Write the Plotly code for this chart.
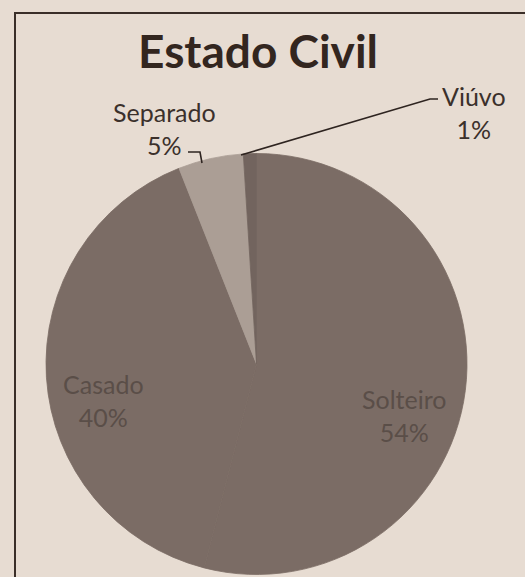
import plotly.graph_objects as go

labels = ["Solteiro", "Casado", "Separado", "Viúvo"]
values = [54, 40, 5, 1]
colors = ["#7b6c65", "#7b6c65", "#ab9e95", "#72645e"]
title_text = "Estado Civil"

W, H = 525, 577
def px(x):
    return x / W
def py(y):
    return 1 - y / H

cx, cy, r = 256.5, 364, 210.5

fig = go.Figure(go.Pie(
    labels=labels,
    values=values,
    sort=False,
    direction="clockwise",
    rotation=0,
    marker=dict(colors=colors, line=dict(width=0.8, color=colors)),
    textinfo="none",
    hoverinfo="label+percent",
    showlegend=False,
    domain=dict(x=[px(cx - r), px(cx + r)], y=[py(cy + r), py(cy - r)]),
))

total = sum(values)
def lab(i):
    return f"{labels[i]}<br>{round(values[i] * 100 / total)}%"

label_pos = {
    "Solteiro": (404, 415, "#5a4e48"),
    "Casado": (103, 400, "#5a4e48"),
    "Separado": (164, 128, "#3b302b"),
    "Viúvo": (474, 112, "#3b302b"),
}
annotations = []
for i, name in enumerate(labels):
    x, y, c = label_pos[name]
    annotations.append(dict(
        x=px(x), y=py(y), xref="paper", yref="paper",
        text=lab(i), showarrow=False,
        font=dict(family="Lato, 'Open Sans', sans-serif", size=25, color=c),
        align="center", xanchor="center", yanchor="middle",
    ))
annotations.append(dict(
    x=px(258), y=py(50), xref="paper", yref="paper",
    text=f"<b>{title_text}</b>", showarrow=False,
    font=dict(family="Lato, 'Open Sans', sans-serif", size=46, color="#33261f"),
    xanchor="center", yanchor="middle",
))

line_col = "#2e2420"
shapes = [
    # frame
    dict(type="line", xref="paper", yref="paper", x0=px(15), x1=px(15), y0=py(13), y1=py(580),
         line=dict(color="#3a2e28", width=2)),
    dict(type="line", xref="paper", yref="paper", x0=px(14), x1=px(530), y0=py(13), y1=py(13),
         line=dict(color="#3a2e28", width=2)),
    # Viúvo leader
    dict(type="path", xref="paper", yref="paper",
         path=f"M {px(241)} {py(155)} L {px(430)} {py(99)} L {px(438)} {py(99)}",
         line=dict(color=line_col, width=1.6)),
    # Separado leader
    dict(type="path", xref="paper", yref="paper",
         path=f"M {px(188)} {py(152)} L {px(200)} {py(152)} L {px(202)} {py(163)}",
         line=dict(color=line_col, width=1.6)),
]

fig.update_layout(
    width=W, height=H,
    margin=dict(l=0, r=0, t=0, b=0),
    paper_bgcolor="#e7dcd2",
    plot_bgcolor="#e7dcd2",
    annotations=annotations,
    shapes=shapes,
)

fig.write_html("out.html",
               config={"displayModeBar": False},
               post_script="document.body.style.margin='0';document.body.style.overflow='hidden';")
